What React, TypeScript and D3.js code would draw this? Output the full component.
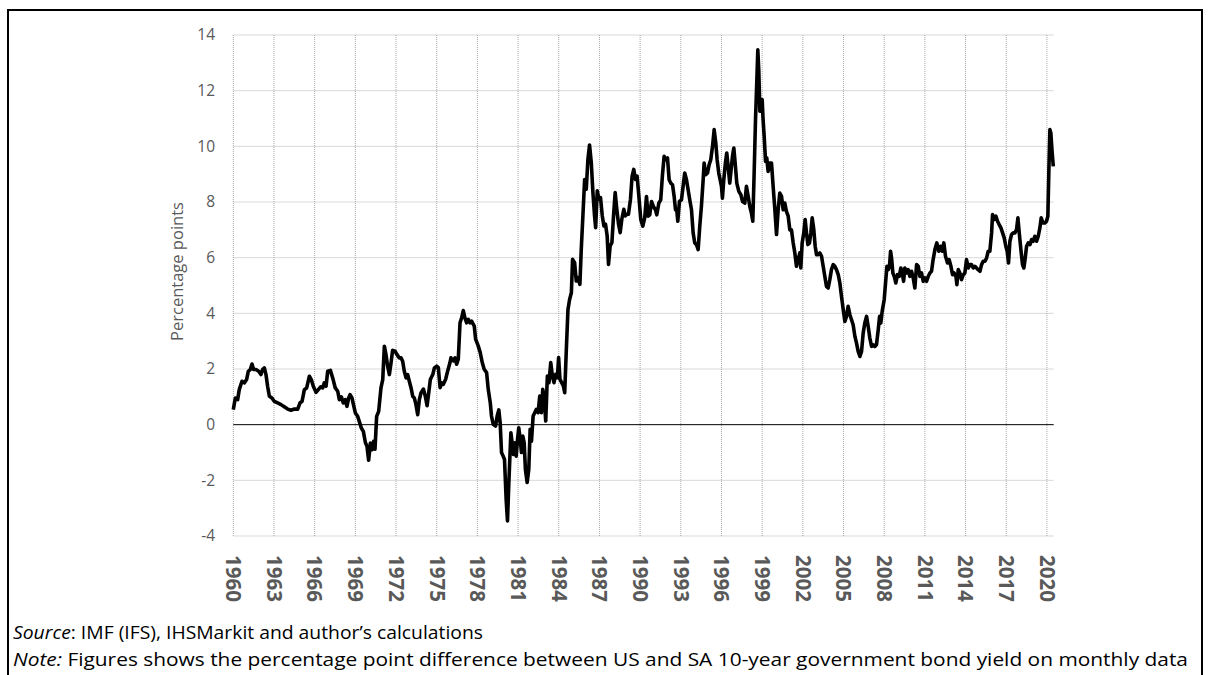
import { useRef, useEffect } from 'react'
import * as d3 from 'd3'

// US minus SA 10-year bond yield spread (year fraction, percentage points)
const spread1960s: [number, number][] = [
  [1960.0, 0.54], [1960.15, 0.96], [1960.32, 0.9], [1960.44, 1.26], [1960.64, 1.56], [1960.81, 1.5],
  [1960.98, 1.62], [1961.11, 1.92], [1961.25, 1.98], [1961.38, 2.18], [1961.5, 1.98], [1961.67, 1.98],
  [1961.87, 1.92], [1962.04, 1.8], [1962.16, 1.98], [1962.29, 2.04], [1962.41, 1.8], [1962.53, 1.38],
  [1962.66, 1.02], [1962.85, 0.96], [1963.02, 0.84], [1963.27, 0.78], [1963.52, 0.72], [1963.76, 0.64],
  [1964.01, 0.56], [1964.25, 0.52], [1964.5, 0.56], [1964.75, 0.56], [1964.92, 0.78], [1965.07, 0.84],
  [1965.24, 1.26], [1965.41, 1.32], [1965.61, 1.74], [1965.75, 1.62], [1965.9, 1.38], [1966.1, 1.16],
  [1966.27, 1.26], [1966.44, 1.36], [1966.59, 1.32], [1966.71, 1.5], [1966.84, 1.38], [1966.96, 1.92],
  [1967.16, 1.95], [1967.33, 1.68], [1967.52, 1.32], [1967.7, 1.2], [1967.82, 0.9], [1967.97, 1.0],
  [1968.11, 0.78], [1968.26, 0.9], [1968.38, 0.66], [1968.51, 0.96], [1968.61, 1.08], [1968.75, 0.96],
  [1968.88, 0.68], [1969.0, 0.42], [1969.17, 0.3], [1969.29, 0.12], [1969.44, -0.12], [1969.59, -0.24],
  [1969.74, -0.64], [1969.86, -0.78], [1969.98, -1.28],
]

const spread1970s: [number, number][] = [
  [1970.11, -0.66], [1970.23, -0.9], [1970.35, -0.6], [1970.45, -0.88], [1970.57, 0.3], [1970.72, 0.48],
  [1970.89, 1.32], [1971.02, 1.62], [1971.14, 2.82], [1971.26, 2.52], [1971.38, 2.1], [1971.51, 1.8],
  [1971.63, 2.22], [1971.75, 2.67], [1971.93, 2.64], [1972.07, 2.52], [1972.24, 2.4], [1972.37, 2.4],
  [1972.49, 2.28], [1972.61, 1.92], [1972.74, 1.68], [1972.86, 1.8], [1972.98, 1.56], [1973.11, 1.32],
  [1973.23, 1.02], [1973.35, 0.96], [1973.47, 0.72], [1973.6, 0.36], [1973.72, 0.9], [1973.84, 1.14],
  [1974.02, 1.28], [1974.16, 1.02], [1974.29, 0.68], [1974.41, 1.14], [1974.53, 1.62], [1974.71, 1.8],
  [1974.83, 2.04], [1975.0, 2.1], [1975.12, 2.05], [1975.25, 1.33], [1975.37, 1.5], [1975.49, 1.45],
  [1975.66, 1.63], [1975.81, 1.93], [1975.98, 2.23], [1976.05, 2.4], [1976.23, 2.29], [1976.35, 2.4],
  [1976.47, 2.17], [1976.59, 2.35], [1976.72, 3.66], [1976.84, 3.84], [1976.96, 4.1], [1977.08, 3.84],
  [1977.21, 3.66], [1977.33, 3.78], [1977.45, 3.66], [1977.57, 3.72], [1977.77, 3.54], [1977.87, 3.07],
  [1978.06, 2.83], [1978.21, 2.59], [1978.36, 2.23], [1978.5, 1.99], [1978.68, 1.87], [1978.8, 1.27],
  [1978.95, 0.79], [1979.04, 0.31], [1979.17, 0.01], [1979.34, -0.05], [1979.46, 0.31], [1979.58, 0.53],
  [1979.68, 0.07], [1979.78, -1.0], [1979.9, -1.13],
]

const spread1980s: [number, number][] = [
  [1980.0, -1.25], [1980.12, -2.68], [1980.22, -3.46], [1980.32, -2.08], [1980.47, -0.29], [1980.56, -0.65],
  [1980.66, -1.07], [1980.76, -0.65], [1980.86, -1.13], [1980.96, -0.53], [1981.05, -0.11], [1981.15, -0.47],
  [1981.25, -1.0], [1981.35, -0.41], [1981.45, -0.65], [1981.54, -1.6], [1981.67, -2.08], [1981.79, -1.6],
  [1981.89, -0.17], [1981.99, -0.59], [1982.11, 0.31], [1982.23, 0.43], [1982.35, 0.55], [1982.48, 0.43],
  [1982.6, 1.03], [1982.72, 0.43], [1982.82, 1.27], [1982.92, 1.03], [1983.04, 0.13], [1983.16, 1.75],
  [1983.28, 1.51], [1983.41, 2.23], [1983.53, 1.75], [1983.65, 1.51], [1983.77, 1.81], [1983.9, 1.69],
  [1983.99, 2.41], [1984.09, 1.63], [1984.22, 1.51], [1984.34, 1.39], [1984.44, 1.15], [1984.56, 2.71],
  [1984.68, 4.14], [1984.8, 4.5], [1984.93, 4.74], [1985.02, 5.94], [1985.17, 5.82], [1985.29, 5.16],
  [1985.42, 5.28], [1985.56, 5.04], [1985.66, 6.3], [1985.78, 7.5], [1985.91, 8.81], [1986.03, 8.46],
  [1986.15, 9.53], [1986.27, 10.05], [1986.4, 9.41], [1986.52, 8.34], [1986.64, 7.5], [1986.72, 7.08],
  [1986.84, 8.4], [1986.96, 8.1], [1987.08, 8.16], [1987.21, 7.5], [1987.33, 7.14], [1987.45, 7.2],
  [1987.57, 6.78], [1987.67, 5.76], [1987.79, 6.42], [1987.92, 6.54], [1988.04, 7.5], [1988.16, 8.34],
  [1988.28, 7.74], [1988.41, 7.2], [1988.53, 6.9], [1988.65, 7.38], [1988.8, 7.74], [1988.9, 7.5],
  [1989.02, 7.56], [1989.14, 7.56], [1989.29, 8.1], [1989.41, 8.93], [1989.53, 9.17], [1989.66, 8.81],
  [1989.78, 8.93], [1989.93, 8.08],
]

const spread1990s: [number, number][] = [
  [1990.05, 7.37], [1990.2, 7.13], [1990.34, 7.43], [1990.47, 8.2], [1990.59, 7.49], [1990.71, 7.54],
  [1990.84, 8.02], [1990.98, 7.84], [1991.13, 7.72], [1991.23, 7.54], [1991.38, 7.96], [1991.52, 8.08],
  [1991.65, 8.98], [1991.77, 9.64], [1991.89, 9.52], [1992.02, 9.58], [1992.14, 8.8], [1992.26, 8.68],
  [1992.39, 8.62], [1992.51, 8.2], [1992.61, 7.72], [1992.7, 7.72], [1992.78, 7.31], [1992.9, 8.02],
  [1993.05, 8.08], [1993.17, 8.56], [1993.29, 9.04], [1993.42, 8.8], [1993.54, 8.44], [1993.66, 8.08],
  [1993.79, 7.72], [1993.91, 6.89], [1994.03, 6.53], [1994.16, 6.47], [1994.28, 6.29], [1994.4, 7.13],
  [1994.52, 7.84], [1994.65, 8.8], [1994.72, 9.4], [1994.84, 8.98], [1994.97, 9.04], [1995.09, 9.34],
  [1995.21, 9.52], [1995.34, 10.0], [1995.46, 10.6], [1995.58, 10.12], [1995.68, 9.52], [1995.8, 9.04],
  [1995.9, 8.8], [1996.0, 8.56], [1996.07, 8.14], [1996.17, 8.8], [1996.29, 9.4], [1996.39, 9.76],
  [1996.49, 9.28], [1996.61, 8.68], [1996.71, 9.16], [1996.81, 9.64], [1996.91, 9.94], [1997.03, 9.28],
  [1997.13, 8.68], [1997.28, 8.38], [1997.43, 8.26], [1997.55, 8.02], [1997.72, 7.96], [1997.84, 8.56],
  [1997.97, 8.2], [1998.09, 7.84], [1998.21, 7.6], [1998.31, 7.31], [1998.41, 9.04], [1998.51, 10.96],
  [1998.61, 12.4], [1998.68, 13.47], [1998.75, 12.75], [1998.83, 11.26], [1998.9, 11.68], [1999.0, 11.68],
  [1999.07, 10.96], [1999.15, 10.36], [1999.25, 9.46], [1999.34, 9.58], [1999.44, 9.1], [1999.56, 9.4],
  [1999.69, 9.4], [1999.81, 8.56], [1999.93, 7.78],
]

const spread2000s: [number, number][] = [
  [2000.06, 6.83], [2000.18, 7.72], [2000.3, 8.32], [2000.43, 8.2], [2000.55, 7.72], [2000.67, 7.96],
  [2000.79, 7.66], [2000.92, 7.49], [2001.04, 7.0], [2001.16, 7.0], [2001.29, 6.53], [2001.41, 6.17],
  [2001.53, 5.69], [2001.65, 5.93], [2001.78, 6.17], [2001.85, 5.63], [2001.95, 6.53], [2002.07, 6.89],
  [2002.17, 7.37], [2002.27, 6.89], [2002.37, 6.47], [2002.49, 6.53], [2002.59, 6.89], [2002.69, 7.43],
  [2002.81, 7.0], [2002.91, 6.41], [2003.01, 6.11], [2003.13, 6.11], [2003.25, 6.17], [2003.38, 6.05],
  [2003.5, 5.69], [2003.62, 5.33], [2003.74, 4.97], [2003.87, 4.91], [2003.99, 5.21], [2004.11, 5.57],
  [2004.24, 5.75], [2004.36, 5.69], [2004.48, 5.57], [2004.61, 5.39], [2004.73, 5.09], [2004.85, 4.61],
  [2004.98, 4.13], [2005.1, 3.71], [2005.22, 3.89], [2005.34, 4.25], [2005.47, 3.95], [2005.59, 3.77],
  [2005.71, 3.59], [2005.84, 3.17], [2005.96, 2.93], [2006.08, 2.63], [2006.21, 2.45], [2006.33, 2.63],
  [2006.45, 3.29], [2006.57, 3.65], [2006.7, 3.89], [2006.82, 3.53], [2006.94, 3.11], [2007.07, 2.81],
  [2007.19, 2.87], [2007.31, 2.81], [2007.43, 2.87], [2007.56, 3.41], [2007.66, 3.89], [2007.75, 3.65],
  [2007.85, 4.07], [2008.0, 4.49], [2008.1, 5.09], [2008.2, 5.69], [2008.3, 5.57], [2008.39, 5.69],
  [2008.47, 6.23], [2008.54, 6.0], [2008.64, 5.45], [2008.74, 5.33], [2008.86, 5.09], [2008.98, 5.39],
  [2009.11, 5.33], [2009.23, 5.63], [2009.35, 5.39], [2009.43, 5.15], [2009.52, 5.63], [2009.67, 5.45],
  [2009.77, 5.57], [2009.89, 5.33],
]

const spread2010s: [number, number][] = [
  [2010.02, 5.51], [2010.14, 5.27], [2010.26, 4.91], [2010.39, 5.75], [2010.51, 5.69], [2010.63, 5.33],
  [2010.75, 5.45], [2010.88, 5.15], [2011.0, 5.27], [2011.12, 5.15], [2011.25, 5.33], [2011.37, 5.45],
  [2011.49, 5.51], [2011.61, 5.93], [2011.74, 6.29], [2011.88, 6.53], [2012.03, 6.23], [2012.16, 6.41],
  [2012.28, 6.23], [2012.4, 6.53], [2012.52, 6.05], [2012.67, 5.81], [2012.79, 5.93], [2012.92, 5.69],
  [2013.04, 5.39], [2013.16, 5.45], [2013.29, 5.33], [2013.36, 5.03], [2013.46, 5.57], [2013.58, 5.45],
  [2013.7, 5.21], [2013.83, 5.39], [2013.95, 5.45], [2014.07, 5.93], [2014.2, 5.63], [2014.32, 5.75],
  [2014.44, 5.75], [2014.57, 5.63], [2014.69, 5.69], [2014.81, 5.63], [2014.93, 5.57], [2015.06, 5.51],
  [2015.18, 5.75], [2015.3, 5.87], [2015.43, 5.87], [2015.55, 5.99], [2015.67, 6.23], [2015.79, 6.23],
  [2015.92, 6.89], [2015.99, 7.55], [2016.11, 7.37], [2016.24, 7.49], [2016.36, 7.31], [2016.48, 7.19],
  [2016.61, 7.07], [2016.73, 6.89], [2016.85, 6.71], [2016.97, 6.41], [2017.07, 6.23], [2017.17, 5.81],
  [2017.27, 6.59], [2017.39, 6.83], [2017.52, 6.89], [2017.64, 6.89], [2017.76, 7.01], [2017.86, 7.43],
  [2017.96, 6.89], [2018.08, 6.29], [2018.2, 5.75], [2018.3, 5.63], [2018.4, 5.99], [2018.5, 6.41],
  [2018.62, 6.53], [2018.75, 6.47], [2018.87, 6.65], [2018.99, 6.59], [2019.11, 6.77], [2019.24, 6.59],
  [2019.36, 6.77], [2019.48, 7.07], [2019.58, 7.43], [2019.7, 7.25], [2019.85, 7.25], [2019.97, 7.31],
  [2020.07, 7.49], [2020.15, 9.28], [2020.22, 10.6], [2020.29, 10.48], [2020.37, 9.88], [2020.47, 9.28],
]

const yearTicks = [1960, 1963, 1966, 1969, 1972, 1975, 1978, 1981, 1984, 1987, 1990, 1993, 1996, 1999, 2002, 2005, 2008, 2011, 2014, 2017, 2020]
const valueTicks = [-4, -2, 0, 2, 4, 6, 8, 10, 12, 14]
const yTitle = 'Percentage points'
const sourceLabel = 'Source'
const sourceText = ': IMF (IFS), IHSMarkit and author\u2019s calculations'
const noteLabel = 'Note:'
const noteText = ' Figures shows the percentage point difference between US and SA 10-year government bond yield on monthly data'

const WIDTH = 1210
const HEIGHT = 675
const FONT = "'Open Sans', 'Noto Sans', sans-serif"

export default function App() {
  const svgRef = useRef<SVGSVGElement>(null)

  useEffect(() => {
    if (!svgRef.current) return
    const svg = d3.select(svgRef.current)
    svg.selectAll('*').remove()

    const plot = { left: 233.3, right: 1053.7, top: 35, bottom: 536 }
    const data = [...spread1960s, ...spread1970s, ...spread1980s, ...spread1990s, ...spread2000s, ...spread2010s]

    const x = d3.scaleLinear().domain([1960, 2020.5]).range([plot.left, plot.right])
    const y = d3.scaleLinear().domain([-4, 14]).range([plot.bottom, plot.top])

    svg.append('rect').attr('width', WIDTH).attr('height', HEIGHT).attr('fill', '#fff')

    // frame around the chart
    svg.append('rect')
      .attr('x', 8).attr('y', 10)
      .attr('width', 1194).attr('height', 700)
      .attr('fill', 'none')
      .attr('stroke', '#000')
      .attr('stroke-width', 2)

    // horizontal gridlines
    svg.append('g')
      .selectAll('line')
      .data(valueTicks.filter(v => v !== 0))
      .join('line')
      .attr('x1', plot.left).attr('x2', plot.right)
      .attr('y1', d => y(d)).attr('y2', d => y(d))
      .attr('stroke', '#d9d9d9')
      .attr('stroke-width', 1)

    // vertical dotted gridlines
    svg.append('g')
      .selectAll('line')
      .data(yearTicks)
      .join('line')
      .attr('x1', d => x(d)).attr('x2', d => x(d))
      .attr('y1', plot.top).attr('y2', plot.bottom)
      .attr('stroke', '#a6a6a6')
      .attr('stroke-width', 1)
      .attr('stroke-dasharray', '1,1')

    // zero line
    svg.append('line')
      .attr('x1', plot.left).attr('x2', plot.right)
      .attr('y1', y(0)).attr('y2', y(0))
      .attr('stroke', '#000')
      .attr('stroke-width', 1)

    // y tick labels
    svg.append('g')
      .selectAll('text')
      .data(valueTicks)
      .join('text')
      .attr('x', 215)
      .attr('y', d => y(d))
      .attr('dy', '0.35em')
      .attr('text-anchor', 'end')
      .attr('font-family', FONT)
      .attr('font-size', 15.5)
      .attr('fill', '#595959')
      .text(d => d)

    // x tick labels, rotated
    svg.append('g')
      .selectAll('text')
      .data(yearTicks)
      .join('text')
      .attr('transform', d => `translate(${x(d)},555) rotate(90)`)
      .attr('dy', '0.35em')
      .attr('text-anchor', 'start')
      .attr('font-family', FONT)
      .attr('font-size', 20.5)
      .attr('font-weight', 'bold')
      .attr('fill', '#595959')
      .text(d => d)

    // y axis title, centred on the plot area
    svg.append('text')
      .attr('transform', `translate(183,${(plot.top + plot.bottom) / 2 - 14}) rotate(-90)`)
      .attr('text-anchor', 'middle')
      .attr('font-family', FONT)
      .attr('font-size', 16.5)
      .attr('fill', '#595959')
      .text(yTitle)

    // spread line
    const line = d3.line<[number, number]>()
      .x(d => x(d[0]))
      .y(d => y(d[1]))

    svg.append('path')
      .datum(data)
      .attr('d', line)
      .attr('fill', 'none')
      .attr('stroke', '#000')
      .attr('stroke-width', 3.6)
      .attr('stroke-linejoin', 'round')

    // source and note
    const source = svg.append('text')
      .attr('x', 13).attr('y', 639)
      .attr('font-family', FONT)
      .attr('font-size', 18.5)
      .attr('fill', '#000')
      .attr('textLength', 470)
      .attr('lengthAdjust', 'spacingAndGlyphs')
    source.append('tspan').attr('font-style', 'italic').text(sourceLabel)
    source.append('tspan').text(sourceText)

    const note = svg.append('text')
      .attr('x', 13).attr('y', 666)
      .attr('font-family', FONT)
      .attr('font-size', 18.5)
      .attr('fill', '#000')
      .attr('textLength', 1175)
      .attr('lengthAdjust', 'spacingAndGlyphs')
    note.append('tspan').attr('font-style', 'italic').text(noteLabel)
    note.append('tspan').text(noteText)
  }, [])

  return (
    <div style={{ position: 'absolute', left: 0, top: 0 }}>
      <svg ref={svgRef} width={WIDTH} height={HEIGHT} style={{ display: 'block' }} />
    </div>
  )
}
